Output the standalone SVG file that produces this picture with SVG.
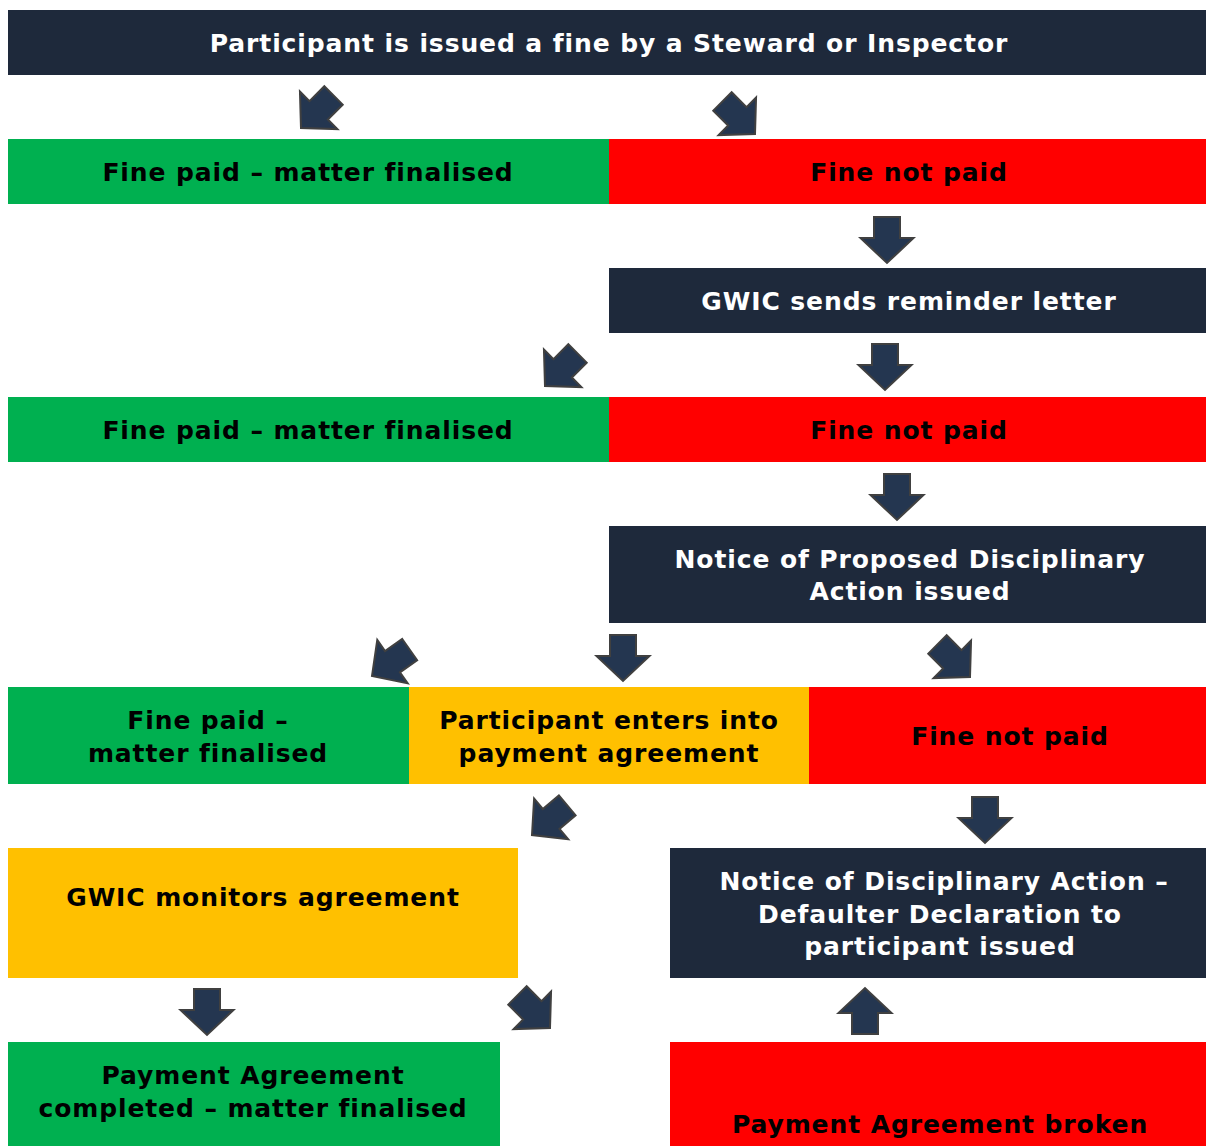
<svg xmlns="http://www.w3.org/2000/svg" xmlns:xlink="http://www.w3.org/1999/xlink" width="1206" height="1146" viewBox="0 0 1206 1146">
<style>
.t{font-family:"DejaVu Sans","Verdana",sans-serif;font-weight:bold;font-size:25px;letter-spacing:0.9px;text-anchor:middle}
.w{fill:#ffffff}
.k{fill:#000000}
.navy{fill:#1E293B}
.green{fill:#00B050}
.red{fill:#FF0000}
.yellow{fill:#FFC000}
.arr{fill:#243650;stroke:#404040;stroke-width:2;stroke-linejoin:miter}
</style>
<defs>
<path id="a" d="M-13,-46 H13 V-25 H26.5 L0,0 L-26.5,-25 H-13 Z"/>
</defs>
<rect width="1206" height="1146" fill="#ffffff"/>
<g id="n1"><rect class="navy" x="8" y="10" width="1198" height="65"/><text class="t w" x="609" y="52">Participant is issued a fine by a Steward or Inspector</text></g>
<g id="n2"><rect class="green" x="8" y="139" width="601" height="65"/><text class="t k" x="308" y="181">Fine paid – matter finalised</text></g>
<g id="n3"><rect class="red" x="609" y="139" width="597" height="65"/><text class="t k" x="909" y="181">Fine not paid</text></g>
<g id="n4"><rect class="navy" x="609" y="268" width="597" height="65"/><text class="t w" x="909" y="310">GWIC sends reminder letter</text></g>
<g id="n5"><rect class="green" x="8" y="397" width="601" height="65"/><text class="t k" x="308" y="439">Fine paid – matter finalised</text></g>
<g id="n6"><rect class="red" x="609" y="397" width="597" height="65"/><text class="t k" x="909" y="439">Fine not paid</text></g>
<g id="n7"><rect class="navy" x="609" y="526" width="597" height="97"/><text class="t w" x="910" y="568">Notice of Proposed Disciplinary</text><text class="t w" x="910" y="600">Action issued</text></g>
<g id="n8"><rect class="green" x="8" y="687" width="401" height="97"/><text class="t k" x="208" y="729">Fine paid –</text><text class="t k" x="208" y="762">matter finalised</text></g>
<g id="n9"><rect class="yellow" x="409" y="687" width="400" height="97"/><text class="t k" x="609" y="729">Participant enters into</text><text class="t k" x="609" y="762">payment agreement</text></g>
<g id="n10"><rect class="red" x="809" y="687" width="397" height="97"/><text class="t k" x="1010" y="745">Fine not paid</text></g>
<g id="n11"><rect class="yellow" x="8" y="848" width="510" height="130"/><text class="t k" x="263" y="906">GWIC monitors agreement</text></g>
<g id="n12"><rect class="navy" x="670" y="848" width="536" height="130"/><text class="t w" x="944" y="890">Notice of Disciplinary Action –</text><text class="t w" x="940" y="923">Defaulter Declaration to</text><text class="t w" x="940" y="955">participant issued</text></g>
<g id="n13"><rect class="green" x="8" y="1042" width="492" height="104"/><text class="t k" x="253" y="1084">Payment Agreement</text><text class="t k" x="253" y="1117">completed – matter finalised</text></g>
<g id="n14"><rect class="red" x="670" y="1042" width="536" height="104"/><text class="t k" x="940" y="1133">Payment Agreement broken</text></g>
<g id="connectors">
<use xlink:href="#a" class="arr" transform="translate(301,128) rotate(45)"/>
<use xlink:href="#a" class="arr" transform="translate(755,134) rotate(-45)"/>
<use xlink:href="#a" class="arr" transform="translate(887,263)"/>
<use xlink:href="#a" class="arr" transform="translate(545,386) rotate(45)"/>
<use xlink:href="#a" class="arr" transform="translate(885,390)"/>
<use xlink:href="#a" class="arr" transform="translate(897,520)"/>
<use xlink:href="#a" class="arr" transform="translate(372,676) rotate(55)"/>
<use xlink:href="#a" class="arr" transform="translate(623,681)"/>
<use xlink:href="#a" class="arr" transform="translate(970,677) rotate(-45)"/>
<use xlink:href="#a" class="arr" transform="translate(532,835) rotate(50)"/>
<use xlink:href="#a" class="arr" transform="translate(985,843)"/>
<use xlink:href="#a" class="arr" transform="translate(207,1035)"/>
<use xlink:href="#a" class="arr" transform="translate(550,1028) rotate(-45)"/>
<use xlink:href="#a" class="arr" transform="translate(865,988) rotate(180)"/>
</g>
</svg>
